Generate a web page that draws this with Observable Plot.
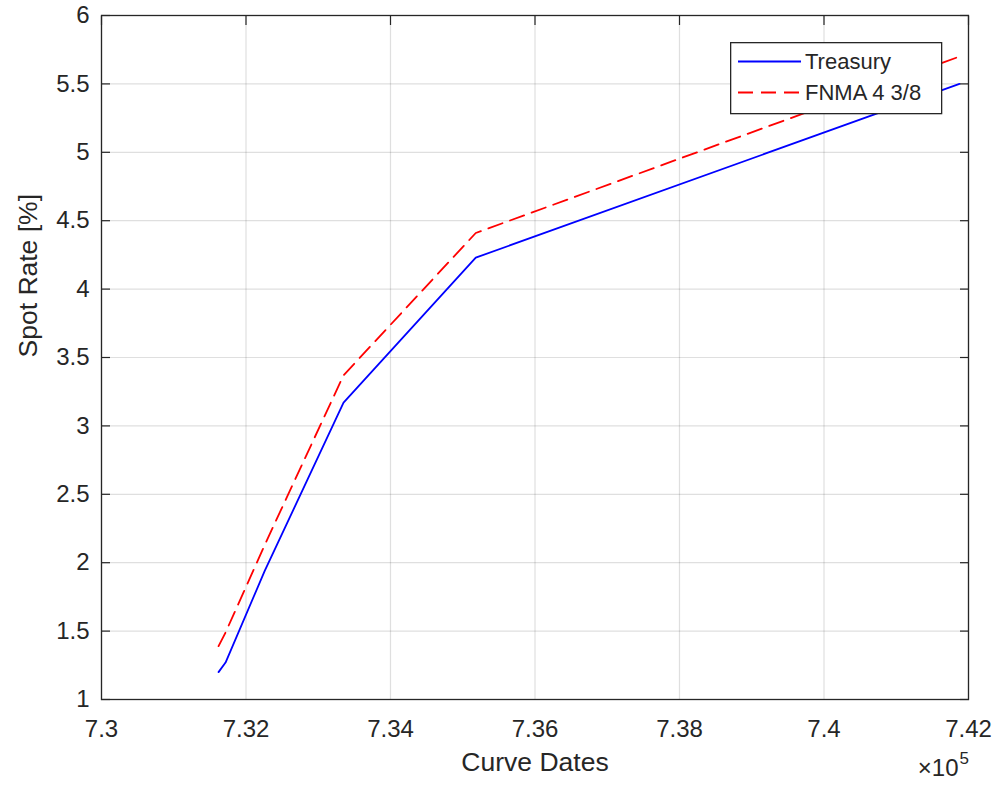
<!DOCTYPE html>
<html>
<head>
<meta charset="utf-8">
<script src="https://cdn.jsdelivr.net/npm/d3@7"></script>
<script src="https://cdn.jsdelivr.net/npm/@observablehq/plot@0.6"></script>
<style>
  body { margin: 0; background: #fff; }
  #chart { position: relative; width: 996px; height: 787px; font-family: "Liberation Sans", Arial, Helvetica, sans-serif; }
  #legend { position: absolute; left: 730px; top: 42px; }
</style>
</head>
<body>
<div id="chart"></div>
<script>
// ---- data ----
const curveDates    = [731620, 731717, 732259, 733350, 735180, 741875];
const treasuryRates = [1.20, 1.27, 1.94, 3.17, 4.23, 5.50];
const fnmaRates     = [1.39, 1.49, 2.13, 3.37, 4.41, 5.70];
const seriesNames   = ["Treasury", "FNMA 4 3/8"];
const xTicks      = [730000, 732000, 734000, 736000, 738000, 740000, 742000];
const xTickLabels = ["7.3", "7.32", "7.34", "7.36", "7.38", "7.4", "7.42"];
const yTicks      = [1, 1.5, 2, 2.5, 3, 3.5, 4, 4.5, 5, 5.5, 6];
const yTickLabels = ["1", "1.5", "2", "2.5", "3", "3.5", "4", "4.5", "5", "5.5", "6"];
const xLabel = "Curve Dates";
const yLabel = "Spot Rate [%]";
const exponentBase = "\u00d710";
const exponentPower = "5";

// ---- styles ----
const ink = "#262626";
const seriesColors = ["#0000ff", "#ff0000"];
const seriesDash = [null, "15,8"];
const tickFont = 24;

const rows = [treasuryRates, fnmaRates].map((vals, s) =>
  curveDates.map((d, i) => ({date: d, rate: vals[i], series: seriesNames[s]}))
);

const fmtX = d => xTickLabels[xTicks.indexOf(d)];
const fmtY = d => yTickLabels[yTicks.indexOf(d)];

const chart = Plot.plot({
  width: 996,
  height: 787,
  marginLeft: 101,
  marginRight: 28,
  marginTop: 15,
  marginBottom: 88,
  style: {color: ink, fontFamily: '"Liberation Sans", Arial, Helvetica, sans-serif', fontSize: tickFont + "px", background: "#fff"},
  x: {domain: [730000, 742000]},
  y: {domain: [1, 6]},
  marks: [
    Plot.gridX(xTicks, {stroke: ink, strokeOpacity: 0.15, strokeWidth: 1.2}),
    Plot.gridY(yTicks, {stroke: ink, strokeOpacity: 0.15, strokeWidth: 1.2}),
    ...rows.map((r, s) => Plot.line(r, {
      x: "date", y: "rate",
      stroke: seriesColors[s], strokeWidth: 1.8,
      strokeDasharray: seriesDash[s] || undefined
    })),
    Plot.axisX(xTicks, {anchor: "bottom", tickSize: -9, tickPadding: 29, tickFormat: fmtX, label: null, fontSize: tickFont, stroke: null, strokeWidth: 1.2}),
    Plot.axisX(xTicks, {anchor: "top", tickSize: -9, tickFormat: () => "", label: null, strokeWidth: 1.2}),
    Plot.axisY(yTicks, {anchor: "left", tickSize: -9, tickPadding: 21, tickFormat: fmtY, label: null, fontSize: tickFont, strokeWidth: 1.2}),
    Plot.axisY(yTicks, {anchor: "right", tickSize: -9, tickFormat: () => "", label: null, strokeWidth: 1.2}),
    Plot.frame({stroke: ink, strokeWidth: 1.3}),
    Plot.text([xLabel], {frameAnchor: "bottom", dy: 71, fontSize: 26.5, fill: ink}),
    Plot.text([yLabel], {frameAnchor: "left", dx: -73, rotate: -90, fontSize: 26.5, fill: ink}),
    Plot.text([exponentBase], {frameAnchor: "bottom-right", dx: -10, dy: 76, textAnchor: "end", fontSize: 24, fill: ink}),
    Plot.text([exponentPower], {frameAnchor: "bottom-right", dx: -9, dy: 64, textAnchor: "start", fontSize: 17, fill: ink})
  ]
});

const host = document.getElementById("chart");
host.appendChild(chart);

// ---- legend (overlay box, top right inside the axes) ----
const lw = 211, lh = 71;
const leg = d3.select(host).append("svg")
  .attr("id", "legend")
  .attr("width", lw + 2).attr("height", lh + 2)
  .style("font-family", '"Liberation Sans", Arial, Helvetica, sans-serif');
leg.append("rect").attr("x", 0.65).attr("y", 0.65).attr("width", lw).attr("height", lh)
  .attr("fill", "#fff").attr("stroke", ink).attr("stroke-width", 1.3);
seriesNames.forEach((name, i) => {
  const cy = 19.5 + i * 31;
  leg.append("line").attr("x1", 8).attr("x2", 71).attr("y1", cy).attr("y2", cy)
    .attr("stroke", seriesColors[i]).attr("stroke-width", 1.8)
    .attr("stroke-dasharray", seriesDash[i]);
  leg.append("text").attr("x", 75).attr("y", cy).attr("dy", "0.35em")
    .attr("font-size", 22).attr("fill", ink).text(name);
});
</script>
</body>
</html>
